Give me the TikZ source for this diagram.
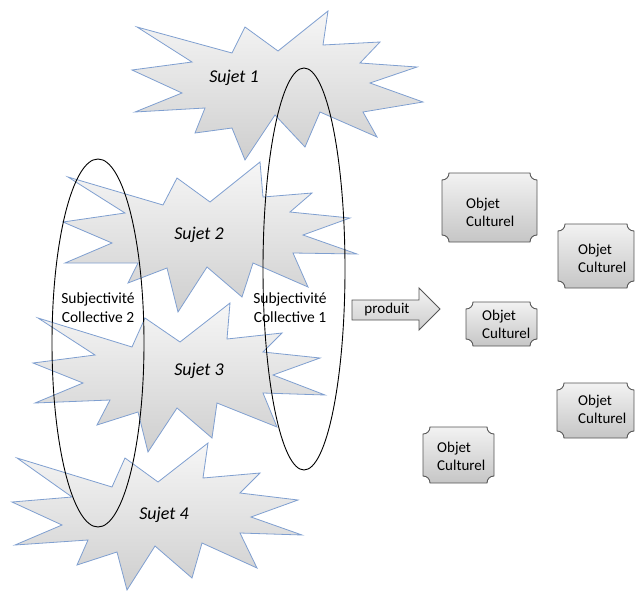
\documentclass[tikz,border=0pt]{standalone}
\usepackage{fontspec}
\setmainfont{Carlito}
\tikzset{
  burst/.style={draw=burstline, line width=0.8pt, line join=miter, top color=gray!7, bottom color=gray!38},
  sujet/.style={font=\fontsize{18}{21}\selectfont\itshape},
  coll/.style={font=\fontsize{15.5}{19}\selectfont, align=center, inner sep=0pt},
  objtext/.style={font=\fontsize{15}{18}\selectfont, align=left, inner sep=0pt, anchor=west},
  plaquebox/.style={draw=plaqueline, line width=0.9pt, top color=gray!10, bottom color=gray!45},
  ring/.style={draw=black, line width=0.9pt},
  arrowbox/.style={draw=plaqueline, line width=0.9pt, top color=gray!8, bottom color=gray!40, line join=miter}
}
\definecolor{burstline}{HTML}{7F9FD0}
\definecolor{plaqueline}{HTML}{555555}
\newcommand{\plq}[4]{%
  \draw[plaquebox] ({#1+7},#2) -- ({#3-7},#2)
    .. controls ({#3-7},{#2+4}) and ({#3-4},{#2+7}) .. (#3,{#2+7})
    -- (#3,{#4-7})
    .. controls ({#3-4},{#4-7}) and ({#3-7},{#4-4}) .. ({#3-7},#4)
    -- ({#1+7},#4)
    .. controls ({#1+7},{#4-4}) and ({#1+4},{#4-7}) .. (#1,{#4-7})
    -- (#1,{#2+7})
    .. controls ({#1+4},{#2+7}) and ({#1+7},{#2+4}) .. ({#1+7},#2) -- cycle;}
\begin{document}
\begin{tikzpicture}[x=1pt,y=-1pt]
\useasboundingbox (0,0) rectangle (635,592);
% Sujet 1
\draw[burst] (137,27) -- (232,53) -- (245,27) -- (278,51) -- (328,11) -- (323,45) -- (380,42) -- (360,63) -- (417,67) -- (370,83) -- (423,102) -- (363,112) -- (377,137) -- (320,112) -- (305,147) -- (275,115) -- (245,160) -- (232,128) -- (195,133) -- (205,108) -- (135,112) -- (182,93) -- (132,70) -- (192,62) -- cycle;
% Sujet 2
\draw[burst] (68,177) -- (163,205) -- (177,178) -- (210,202) -- (260,162) -- (263,197) -- (312,193) -- (290,212) -- (350,218) -- (303,235) -- (357,254) -- (293,253) -- (308,287) -- (253,263) -- (242,297) -- (207,267) -- (178,312) -- (167,268) -- (128,283) -- (138,263) -- (65,263) -- (112,243) -- (63,222) -- (125,213) -- cycle;
% Sujet 3
\draw[burst] (38,318) -- (132,347) -- (145,318) -- (180,342) -- (230,303) -- (227,339) -- (282,333) -- (263,352) -- (320,358) -- (273,375) -- (325,395) -- (263,393) -- (277,427) -- (217,403) -- (212,438) -- (177,408) -- (148,452) -- (138,412) -- (97,425) -- (110,400) -- (35,403) -- (83,383) -- (33,363) -- (95,355) -- cycle;
% Sujet 4
\draw[burst] (17,458) -- (112,487) -- (125,458) -- (158,482) -- (208,443) -- (203,478) -- (260,473) -- (240,493) -- (298,500) -- (251,517) -- (302,535) -- (240,533) -- (257,568) -- (202,543) -- (192,578) -- (155,546) -- (127,590) -- (117,552) -- (77,565) -- (88,540) -- (15,545) -- (62,525) -- (12,502) -- (72,497) -- cycle;
\node[sujet] (s1) at (234,78) {Sujet 1};
\node[sujet] (s2) at (199,235) {Sujet 2};
\node[sujet] (s3) at (199,371) {Sujet 3};
\node[sujet] (s4) at (164,515) {Sujet 4};
% ellipses
\draw[ring] (304,269) ellipse [x radius=41pt, y radius=201pt];
\draw[ring] (98,343) ellipse [x radius=46pt, y radius=184pt];
\node[coll] (c2) at (98,308) {Subjectivité\\Collective 2};
\node[coll] (c1) at (290,308) {Subjectivité\\Collective 1};
% arrow
\draw[arrowbox] (352,300) -- (419,300) -- (419,288) -- (440,309) -- (419,330) -- (419,320) -- (352,320) -- cycle;
\node[font=\fontsize{15}{18}\selectfont, inner sep=0pt] (prod) at (387,309) {produit};
% objets
\plq{442}{173}{537}{242}
\plq{558}{224}{634}{288}
\plq{466}{302}{537}{346}
\plq{557}{383}{634}{438}
\plq{423}{427}{494}{483}
\node[objtext] (o1) at (466,212) {Objet\\Culturel};
\node[objtext] (o2) at (578,258) {Objet\\Culturel};
\node[objtext] (o3) at (482,324) {Objet\\Culturel};
\node[objtext] (o4) at (578,409) {Objet\\Culturel};
\node[objtext] (o5) at (437,456) {Objet\\Culturel};
\end{tikzpicture}
\end{document}
